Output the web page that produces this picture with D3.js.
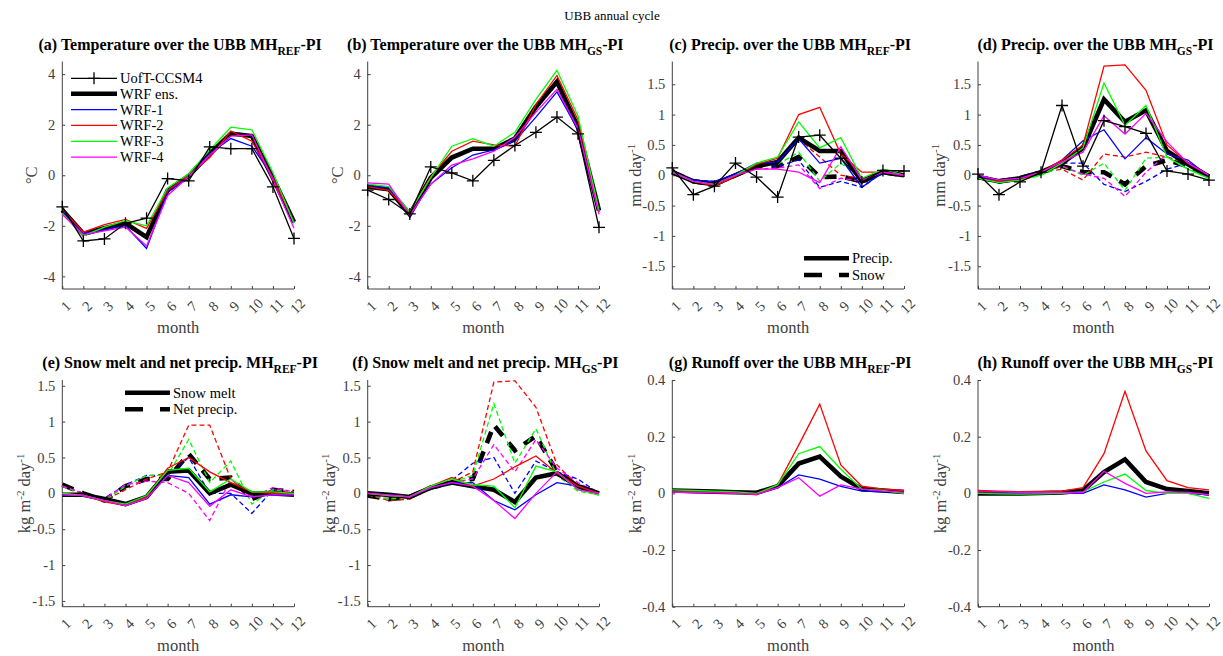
<!DOCTYPE html>
<html><head><meta charset="utf-8">
<script src="https://cdn.jsdelivr.net/npm/d3@7"></script>
<style>body{margin:0;background:#fff}svg{display:block}text{font-family:"Liberation Serif","Times New Roman",serif}</style>
</head><body>
<script>
const months = [1,2,3,4,5,6,7,8,9,10,11,12];
const tickLabels = ["1","2","3","4","5","6","7","8","9","10","11","12"];
const seriesNames = ["UofT-CCSM4","WRF ens.","WRF-1","WRF-2","WRF-3","WRF-4"];
const seriesColors = ["#000000","#000000","#0000ff","#ff0000","#00ff00","#ff00ff"];

// (a) Temperature MH_REF-PI
const tRef_uoft = [-1.25,-2.6,-2.52,-1.9,-1.7,-0.13,-0.22,1.12,1.05,1.05,-0.46,-2.5];
const tRef_ens  = [-1.38,-2.32,-2.1,-1.9,-2.45,-0.6,-0.03,0.85,1.65,1.55,-0.1,-1.85];
const tRef_w1   = [-1.45,-2.3,-2.15,-2.0,-2.9,-0.65,-0.05,0.85,1.45,1.15,-0.05,-1.9];
const tRef_w2   = [-1.35,-2.25,-1.95,-1.75,-2.1,-0.6,0.0,0.7,1.75,1.35,-0.1,-1.85];
const tRef_w3   = [-1.5,-2.4,-2.05,-1.8,-2.0,-0.5,0.05,1.0,1.9,1.8,0.1,-1.9];
const tRef_w4   = [-1.55,-2.35,-2.2,-2.05,-2.8,-0.8,-0.05,0.8,1.55,1.6,-0.2,-2.1];
// (b) Temperature MH_GS-PI
const tGs_uoft = [-0.59,-0.96,-1.53,0.33,0.09,-0.22,0.59,1.18,1.7,2.3,1.64,-2.06];
const tGs_ens  = [-0.45,-0.55,-1.55,-0.1,0.7,1.05,1.05,1.45,2.7,3.7,1.9,-1.4];
const tGs_w1   = [-0.4,-0.5,-1.55,-0.35,0.3,0.8,1.0,1.35,2.3,3.3,1.8,-1.45];
const tGs_w2   = [-0.45,-0.6,-1.5,-0.05,0.95,1.35,1.2,1.15,2.8,3.95,2.2,-1.45];
const tGs_w3   = [-0.35,-0.45,-1.45,-0.1,1.15,1.45,1.15,1.7,3.0,4.15,2.35,-1.4];
const tGs_w4   = [-0.3,-0.35,-1.6,-0.35,0.4,0.65,0.95,1.5,2.5,3.4,1.85,-1.55];
// (c) Precip MH_REF-PI (solid = precip, dashed = snow)
const pRef_uoft = [0.12,-0.32,-0.18,0.2,-0.03,-0.36,0.63,0.66,0.28,-0.11,0.08,0.07];
const pRef_ens  = [0.05,-0.1,-0.15,0.0,0.15,0.22,0.62,0.4,0.4,-0.1,0.05,0.0];
const pRef_w1   = [0.05,-0.08,-0.1,0.02,0.2,0.22,0.6,0.2,0.28,-0.2,0.05,0.0];
const pRef_w2   = [0.05,-0.1,-0.18,-0.02,0.18,0.28,1.0,1.12,0.35,0.05,0.05,0.0];
const pRef_w3   = [0.05,-0.1,-0.15,0.0,0.2,0.3,0.88,0.45,0.62,-0.05,0.1,0.0];
const pRef_w4   = [0.05,-0.1,-0.15,0.0,0.1,0.1,0.05,-0.12,0.47,-0.08,0.05,0.0];
const sRef_ens  = [0.05,-0.1,-0.15,0.0,0.15,0.15,0.3,-0.03,-0.02,-0.1,0.05,0.0];
const sRef_w1   = [0.05,-0.08,-0.1,0.02,0.18,0.15,0.25,-0.2,-0.1,-0.2,0.05,0.0];
const sRef_w2   = [0.05,-0.1,-0.18,-0.02,0.16,0.2,0.6,0.3,0.0,-0.05,0.05,0.0];
const sRef_w3   = [0.05,-0.1,-0.15,0.0,0.18,0.18,0.38,-0.1,0.2,-0.05,0.08,0.0];
const sRef_w4   = [0.05,-0.1,-0.15,0.0,0.1,0.12,0.17,-0.22,-0.05,-0.1,0.05,0.0];
// (d) Precip MH_GS-PI
const pGs_uoft = [0.02,-0.32,-0.11,0.05,1.15,0.15,0.9,0.8,0.69,0.07,0.02,-0.08];
const pGs_ens  = [-0.03,-0.1,-0.05,0.05,0.2,0.45,1.25,0.88,1.07,0.4,0.18,-0.02];
const pGs_w1   = [-0.02,-0.1,-0.05,0.05,0.25,0.57,0.75,0.27,0.62,0.35,0.25,-0.02];
const pGs_w2   = [-0.05,-0.1,-0.08,0.05,0.25,0.5,1.8,1.82,1.4,0.5,0.2,0.0];
const pGs_w3   = [-0.05,-0.12,-0.08,0.0,0.2,0.45,1.52,0.82,1.15,0.3,0.1,-0.05];
const pGs_w4   = [0.0,-0.08,-0.05,0.05,0.22,0.38,0.98,0.68,1.02,0.55,0.2,0.0];
const sGs_ens  = [-0.03,-0.1,-0.05,0.05,0.15,0.05,0.05,-0.15,0.15,0.25,0.15,-0.02];
const sGs_w1   = [-0.02,-0.1,-0.05,0.05,0.2,0.2,-0.15,-0.27,-0.1,0.1,0.2,-0.02];
const sGs_w2   = [-0.05,-0.1,-0.08,0.05,0.1,-0.08,0.35,0.3,0.38,0.3,0.2,0.0];
const sGs_w3   = [-0.05,-0.12,-0.08,0.0,0.15,0.0,0.2,-0.25,0.28,0.3,0.1,-0.05];
const sGs_w4   = [0.0,-0.08,-0.05,0.05,0.15,0.02,-0.05,-0.35,0.05,0.35,0.2,0.0];
// (e) Snow melt (solid) and net precip (dashed) MH_REF-PI
const mRef_ens = [-0.02,-0.02,-0.08,-0.15,-0.05,0.3,0.32,0.0,0.12,0.0,0.0,-0.02];
const mRef_w1  = [-0.02,-0.03,-0.1,-0.17,-0.07,0.25,0.22,-0.15,-0.02,-0.05,-0.02,-0.02];
const mRef_w2  = [0.0,-0.03,-0.12,-0.17,-0.05,0.35,0.5,0.3,0.15,0.02,0.0,0.0];
const mRef_w3  = [0.0,-0.03,-0.1,-0.15,-0.03,0.32,0.35,0.02,0.2,0.02,0.02,0.0];
const mRef_w4  = [-0.02,-0.03,-0.1,-0.17,-0.07,0.25,0.15,-0.18,0.05,-0.05,-0.02,-0.02];
const nRef_ens = [0.12,0.0,-0.1,0.1,0.2,0.2,0.55,0.2,0.22,-0.08,0.05,0.02];
const nRef_w1  = [0.1,0.0,-0.08,0.12,0.25,0.25,0.5,0.0,0.0,-0.28,0.05,0.0];
const nRef_w2  = [0.1,0.0,-0.1,0.05,0.2,0.3,0.95,0.95,0.2,-0.05,0.05,0.02];
const nRef_w3  = [0.1,-0.02,-0.1,0.1,0.25,0.25,0.75,0.15,0.45,-0.15,0.05,0.0];
const nRef_w4  = [0.1,0.0,-0.08,0.12,0.17,0.15,0.0,-0.38,0.2,-0.05,0.08,0.02];
// (f) Snow melt and net precip MH_GS-PI
const mGs_ens = [0.0,-0.02,-0.05,0.08,0.15,0.1,0.05,-0.12,0.22,0.28,0.1,0.0];
const mGs_w1  = [0.0,-0.02,-0.05,0.08,0.15,0.15,-0.1,-0.23,-0.02,0.15,0.1,0.0];
const mGs_w2  = [0.0,-0.03,-0.05,0.1,0.22,0.1,0.2,0.37,0.52,0.28,0.1,0.0];
const mGs_w3  = [0.0,-0.03,-0.05,0.1,0.2,0.12,0.1,-0.2,0.38,0.3,0.05,-0.02];
const mGs_w4  = [0.0,-0.02,-0.05,0.08,0.15,0.1,-0.1,-0.35,0.0,0.3,0.05,0.0];
const nGs_ens = [-0.03,-0.08,-0.05,0.08,0.15,0.2,0.95,0.6,0.8,0.3,0.1,0.0];
const nGs_w1  = [-0.02,-0.05,-0.05,0.1,0.18,0.42,0.5,0.0,0.45,0.3,0.2,0.0];
const nGs_w2  = [-0.02,-0.1,-0.08,0.1,0.15,0.3,1.55,1.57,1.2,0.4,0.1,0.0];
const nGs_w3  = [-0.02,-0.08,-0.05,0.08,0.15,0.25,1.25,0.42,0.9,0.25,0.03,-0.02];
const nGs_w4  = [-0.02,-0.05,-0.05,0.1,0.15,0.2,0.68,0.3,0.75,0.35,0.15,0.0];
// (g) Runoff MH_REF-PI
const rRef_ens = [0.01,0.008,0.006,0.004,0.002,0.025,0.105,0.13,0.06,0.015,0.01,0.005];
const rRef_w1  = [0.005,0.005,0.004,0.002,-0.002,0.02,0.065,0.05,0.025,0.008,0.005,0.003];
const rRef_w2  = [0.005,0.005,0.004,0.002,-0.005,0.03,0.17,0.315,0.1,0.025,0.015,0.01];
const rRef_w3  = [0.012,0.01,0.008,0.005,0.0,0.03,0.14,0.165,0.085,0.015,0.01,0.0];
const rRef_w4  = [0.004,0.003,0.002,0.0,-0.003,0.02,0.055,-0.01,0.03,0.015,0.008,0.004];
// (h) Runoff MH_GS-PI
const rGs_ens = [0.0,0.0,0.0,0.001,0.003,0.01,0.075,0.12,0.04,0.015,0.008,0.0];
const rGs_w1  = [0.0,0.0,0.0,0.0,0.0,0.0,0.03,0.012,-0.013,0.0,0.0,-0.005];
const rGs_w2  = [0.01,0.008,0.006,0.006,0.008,0.02,0.14,0.36,0.15,0.045,0.02,0.012];
const rGs_w3  = [0.0,-0.002,-0.003,-0.002,0.0,0.005,0.04,0.068,0.01,0.0,0.0,-0.018];
const rGs_w4  = [0.005,0.005,0.003,0.003,0.003,0.003,0.078,0.035,0.0,0.005,0.003,-0.005];

const tempTicks = [-4,-2,0,2,4];
const precTicks = [-1.5,-1,-0.5,0,0.5,1,1.5];
const runTicks = [-0.4,-0.2,0,0.2,0.4];

const W = 1223, H = 656;
const svg = d3.select("body").append("svg").attr("width", W).attr("height", H);
const AX = "#404040";

svg.append("text").attr("x", 612).attr("y", 20).attr("text-anchor","middle")
  .attr("font-size", 13).attr("fill","#000").text("UBB annual cycle");

const rows = [{top:61.5, bottom:289}, {top:380, bottom:606.7}];
const cols = [{l:62.3, r:294}, {l:367.7, r:599}, {l:672.3, r:904}, {l:978, r:1209}];

const THICK = 4.6, THIN = 1.3;
const DASH_THIN = "5,3", DASH_THICK = "12,9";

// series list per panel: [data, colorIndex, width, dash, markers]
function wrfSet(e, w1, w2, w3, w4, dashed) {
  const d = dashed ? DASH_THIN : null, dk = dashed ? DASH_THICK : null;
  return [[e,1,THICK,dk],[w1,2,THIN,d],[w2,3,THIN,d],[w3,4,THIN,d],[w4,5,THIN,d]];
}

const panels = [
  {row:0,col:0,letter:"(a) Temperature over the UBB MH",sub:"REF",tail:"-PI",ylim:[-4.5,4.5],ticks:tempTicks,
   ylab:"deg",ylx:31.5,
   series:[...wrfSet(tRef_ens,tRef_w1,tRef_w2,tRef_w3,tRef_w4,false),[tRef_uoft,0,THIN,null,true]]},
  {row:0,col:1,letter:"(b) Temperature over the UBB MH",sub:"GS",tail:"-PI",ylim:[-4.5,4.5],ticks:tempTicks,
   ylab:"deg",ylx:337,
   series:[...wrfSet(tGs_ens,tGs_w1,tGs_w2,tGs_w3,tGs_w4,false),[tGs_uoft,0,THIN,null,true]]},
  {row:0,col:2,letter:"(c) Precip. over the UBB MH",sub:"REF",tail:"-PI",ylim:[-1.875,1.875],ticks:precTicks,
   ylab:"mm",ylx:635,
   series:[...wrfSet(sRef_ens,sRef_w1,sRef_w2,sRef_w3,sRef_w4,true),...wrfSet(pRef_ens,pRef_w1,pRef_w2,pRef_w3,pRef_w4,false),[pRef_uoft,0,THIN,null,true]]},
  {row:0,col:3,letter:"(d) Precip. over the UBB MH",sub:"GS",tail:"-PI",ylim:[-1.875,1.875],ticks:precTicks,
   ylab:"mm",ylx:939,
   series:[...wrfSet(sGs_ens,sGs_w1,sGs_w2,sGs_w3,sGs_w4,true),...wrfSet(pGs_ens,pGs_w1,pGs_w2,pGs_w3,pGs_w4,false),[pGs_uoft,0,THIN,null,true]]},
  {row:1,col:0,letter:"(e) Snow melt and net precip. MH",sub:"REF",tail:"-PI",ylim:[-1.58,1.58],ticks:precTicks,
   ylab:"kg",ylx:24,
   series:[...wrfSet(nRef_ens,nRef_w1,nRef_w2,nRef_w3,nRef_w4,true),...wrfSet(mRef_ens,mRef_w1,mRef_w2,mRef_w3,mRef_w4,false)]},
  {row:1,col:1,letter:"(f) Snow melt and net precip. MH",sub:"GS",tail:"-PI",ylim:[-1.58,1.58],ticks:precTicks,
   ylab:"kg",ylx:329,
   series:[...wrfSet(nGs_ens,nGs_w1,nGs_w2,nGs_w3,nGs_w4,true),...wrfSet(mGs_ens,mGs_w1,mGs_w2,mGs_w3,mGs_w4,false)]},
  {row:1,col:2,letter:"(g) Runoff over the UBB MH",sub:"REF",tail:"-PI",ylim:[-0.4,0.4],ticks:runTicks,
   ylab:"kg",ylx:635,
   series:[...wrfSet(rRef_ens,rRef_w1,rRef_w2,rRef_w3,rRef_w4,false)]},
  {row:1,col:3,letter:"(h) Runoff over the UBB MH",sub:"GS",tail:"-PI",ylim:[-0.4,0.4],ticks:runTicks,
   ylab:"kg",ylx:940,
   series:[...wrfSet(rGs_ens,rGs_w1,rGs_w2,rGs_w3,rGs_w4,false)]}
];

const plusPath = "M-6,0H6M0,-6V6";

panels.forEach(p => {
  const R = rows[p.row], C = cols[p.col];
  const x = d3.scaleLinear().domain([1,12]).range([C.l, C.r]);
  const y = d3.scaleLinear().domain(p.ylim).range([R.bottom, R.top]);
  const g = svg.append("g");

  // axes
  const xAxis = d3.axisBottom(x).tickValues(months).tickSize(-3).tickFormat(() => "");
  const gx = g.append("g").attr("transform", `translate(0,${R.bottom})`).call(xAxis);
  gx.select(".domain").attr("stroke", AX).attr("d", `M${C.l},0H${C.r}`);
  gx.selectAll(".tick line").attr("stroke", AX);
  gx.selectAll(".tick").append("text")
    .attr("fill", AX).attr("font-size", 14.5).attr("text-anchor","middle")
    .attr("transform","translate(3,17) rotate(-45)").attr("dy","0.35em")
    .text((d,i) => tickLabels[i]);

  const yAxis = d3.axisLeft(y).tickValues(p.ticks).tickSize(-3).tickPadding(7)
    .tickFormat(d => String(d));
  const gy = g.append("g").attr("transform", `translate(${C.l},0)`).call(yAxis);
  gy.select(".domain").attr("stroke", AX).attr("d", `M0,${R.top}V${R.bottom}`);
  gy.selectAll(".tick line").attr("stroke", AX);
  gy.selectAll(".tick text").attr("fill", AX).attr("font-size", 14.5)
    .attr("font-family",'"Liberation Serif",serif');

  // x label
  g.append("text").attr("x", (C.l + C.r)/2).attr("y", R.bottom + 44)
    .attr("text-anchor","middle").attr("font-size", 16.5).attr("fill", AX).text("month");

  // y label
  const yl = g.append("text").attr("transform", `translate(${p.ylx},${(R.top+R.bottom)/2}) rotate(-90)`)
    .attr("text-anchor","middle").attr("dy","0.35em").attr("font-size", 16.5).attr("fill", AX);
  if (p.ylab === "deg") yl.text("°C");
  else if (p.ylab === "mm") {
    yl.append("tspan").text("mm day");
    yl.append("tspan").attr("dy", -6).attr("font-size", 11).text("-1");
  } else {
    yl.append("tspan").text("kg m");
    yl.append("tspan").attr("dy", -6).attr("font-size", 11).text("-2");
    yl.append("tspan").attr("dy", 6).text(" day");
    yl.append("tspan").attr("dy", -6).attr("font-size", 11).text("-1");
  }

  // title
  const tt = g.append("text").attr("x", (C.l + C.r)/2 + 2).attr("y", p.row === 0 ? 49.5 : 368)
    .attr("text-anchor","middle").attr("font-size", 16).attr("font-weight","bold").attr("fill","#000");
  tt.append("tspan").text(p.letter);
  tt.append("tspan").attr("dy", 5).attr("font-size", 11.5).text(p.sub);
  tt.append("tspan").attr("dy", -5).text(p.tail);

  // lines
  const line = d3.line().x((d,i) => x(months[i])).y(d => y(d));
  p.series.forEach(s => {
    const [data, ci, w, dash, markers] = s;
    g.append("path").attr("d", line(data)).attr("fill","none")
      .attr("stroke", seriesColors[ci]).attr("stroke-width", w)
      .attr("stroke-linejoin","miter").attr("stroke-dasharray", dash || null);
    if (markers) {
      g.selectAll(null).data(data).enter().append("path")
        .attr("d", plusPath).attr("transform", (d,i) => `translate(${x(months[i])},${y(d)})`)
        .attr("stroke", seriesColors[ci]).attr("stroke-width", THIN).attr("fill","none");
    }
  });
});

// legend (a)
const lgA = svg.append("g");
const legOrder = [0,1,2,3,4,5];
const legY = [78.3, 93.8, 109.6, 125.4, 141.3, 157.2];
legOrder.forEach((si, k) => {
  const yy = legY[k];
  lgA.append("line").attr("x1", 71).attr("x2", 117).attr("y1", yy).attr("y2", yy)
    .attr("stroke", seriesColors[si]).attr("stroke-width", si === 1 ? THICK : THIN);
  if (si === 0) lgA.append("path").attr("d", plusPath).attr("transform", `translate(94,${yy})`)
    .attr("stroke","#000").attr("stroke-width", THIN);
  lgA.append("text").attr("x", 120).attr("y", yy).attr("dy","0.35em").attr("font-size", 14.5)
    .attr("fill","#000").text(seriesNames[si]);
});

// legend (c)
const lgC = svg.append("g");
[["Precip.", null, 258.3], ["Snow", DASH_THICK, 275]].forEach(([t, dash, yy]) => {
  lgC.append("line").attr("x1", 804).attr("x2", 849).attr("y1", yy).attr("y2", yy)
    .attr("stroke","#000").attr("stroke-width", THICK).attr("stroke-dasharray", dash ? "18,17" : null);
  lgC.append("text").attr("x", 852).attr("y", yy).attr("dy","0.35em").attr("font-size", 14.5).text(t);
});
// legend (e)
const lgE = svg.append("g");
[["Snow melt", null, 392.7], ["Net precip.", DASH_THICK, 409.3]].forEach(([t, dash, yy]) => {
  lgE.append("line").attr("x1", 125).attr("x2", 170).attr("y1", yy).attr("y2", yy)
    .attr("stroke","#000").attr("stroke-width", THICK).attr("stroke-dasharray", dash ? "18,17" : null);
  lgE.append("text").attr("x", 173).attr("y", yy).attr("dy","0.35em").attr("font-size", 14.5).text(t);
});
</script>
</body></html>
